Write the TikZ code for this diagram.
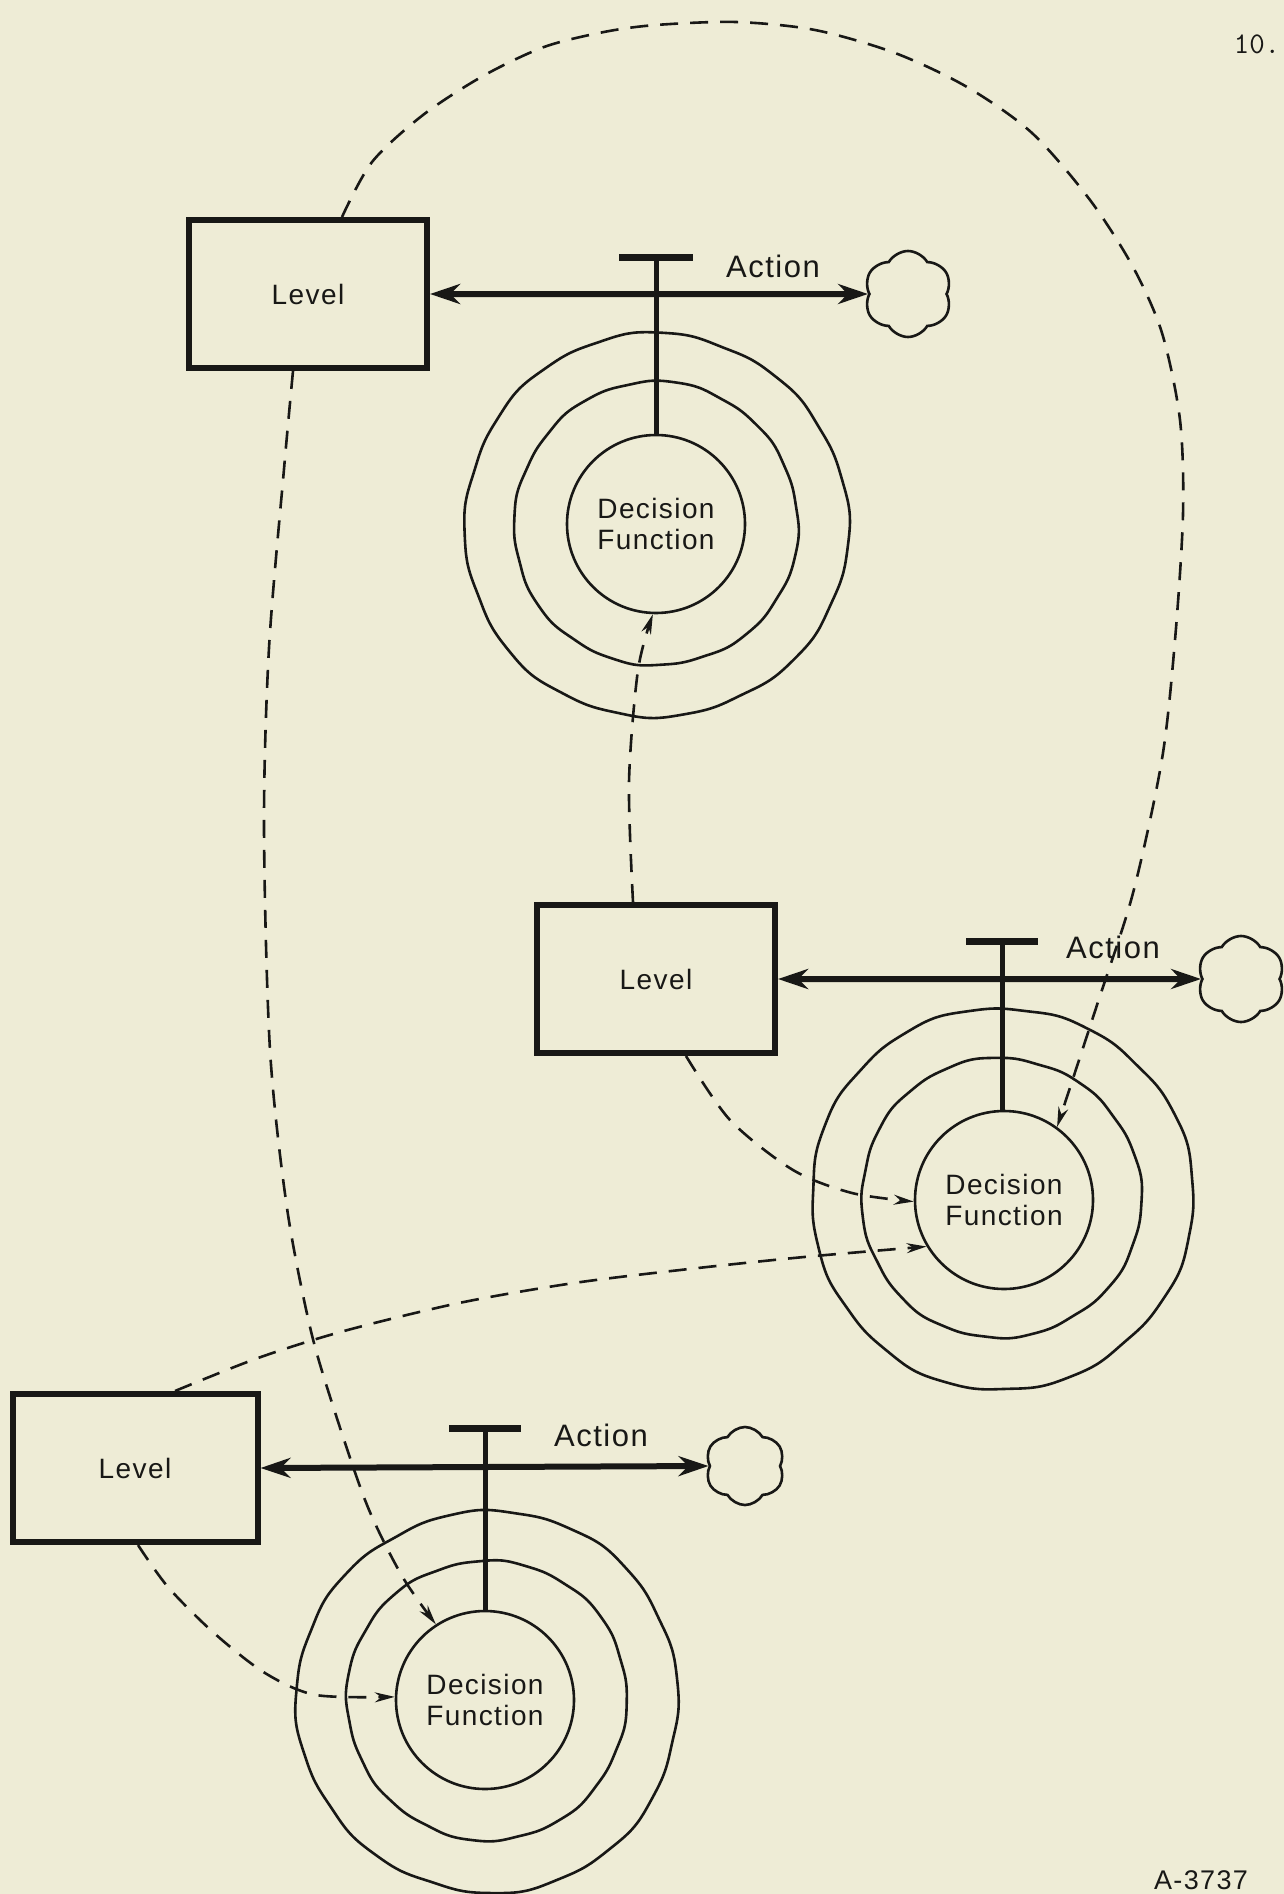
\documentclass[tikz,border=0pt]{standalone}
\usepackage{fontspec}
\setmainfont{Liberation Sans}[LetterSpace=5.0]
\usetikzlibrary{arrows.meta,shapes.symbols}
\definecolor{paper}{RGB}{238,236,214}
\definecolor{ink}{RGB}{24,24,22}

% hand-drawn looking ring: centre x, centre y, radius, phase, wobble, egg
\newcommand\wobblering[6]{%
  \draw[ring] plot[smooth cycle, samples=120, domain=0:357, variable=\t]
   ({#1+#3*(1+#5*(sin(3*\t+#4)+0.7*sin(8*\t+2*#4)+0.45*sin(19*\t+3*#4))+#6*sin(\t))*cos(\t)},
    {#2+#3*(1+#5*(sin(3*\t+#4)+0.7*sin(8*\t+2*#4)+0.45*sin(19*\t+3*#4))+#6*sin(\t))*sin(\t)});
}

\begin{document}
\begin{tikzpicture}[x=1pt,y=-1pt,
  levelbox/.style={draw=ink, line width=6pt, minimum width=238pt,
    minimum height=148pt, inner sep=0pt, text=ink,
    font=\fontsize{28}{34}\selectfont},
  decision/.style={draw=ink, circle, line width=2.6pt, minimum size=178pt,
    inner sep=0pt, align=center, text=ink, font=\fontsize{28}{31}\selectfont},
  ring/.style={draw=ink, line width=2.6pt},
  puff/.style={cloud, cloud puffs=6, cloud puff arc=120, cloud ignores aspect,
    draw=ink, line width=2.6pt, minimum width=88pt, minimum height=86pt,
    inner sep=0pt},
  actionline/.style={draw=ink, line width=6pt,
    {Stealth[length=30pt,width=20pt]}-{Stealth[length=30pt,width=20pt]}},
  tbar/.style={draw=ink, line width=7pt},
  stem/.style={draw=ink, line width=5pt},
  infoflow/.style={draw=ink, line width=2.6pt, dash pattern=on 18pt off 12pt,
    -{Stealth[length=20pt,width=10pt]}},
  lbl/.style={text=ink, font=\fontsize{31}{31}\selectfont}
]
\useasboundingbox[fill=paper] (0,0) rectangle (1284,1894);

% ---- page marks
\node[text=ink, font=\ttfamily\fontsize{30}{30}\selectfont] (pg) at (1257,44) {10.};
\node[text=ink, font=\fontsize{27}{27}\selectfont] (ref) at (1201,1880) {A-3737};

% ---- rings of influence around each decision function
\wobblering{656}{524}{142}{10}{0.006}{0.00}
\wobblering{656}{524}{192}{50}{0.006}{0.008}
\wobblering{1001}{1198}{140}{80}{0.006}{0.00}
\wobblering{1002}{1197}{191}{130}{0.006}{0.008}
\wobblering{487}{1700}{140}{200}{0.006}{0.00}
\wobblering{488}{1700}{191}{250}{0.006}{0.008}

% ---- decision functions
\node[decision] (df1) at (656,524) {Decision\\Function};
\node[decision] (df2) at (1004,1200) {Decision\\Function};
\node[decision] (df3) at (485,1700) {Decision\\Function};

% ---- levels
\node[levelbox] (b1) at (308,294) {Level};
\node[levelbox] (b2) at (656,979) {Level};
\node[levelbox, minimum width=245pt] (b3) at (135,1468) {Level};

% ---- sinks
\node[puff] (c1) at (908,294) {};
\node[puff] (c2) at (1241,979) {};
\node[puff, minimum width=80pt, minimum height=78pt] (c3) at (745,1466) {};

% ---- valves (T) on the action flows
\coordinate (t1) at (656,258);
\coordinate (t2) at (1002,941);
\coordinate (t3) at (485,1428);
\draw[stem] (t1) -- (df1.north);
\draw[stem] (t2) -- (t2 |- df2.north);
\draw[stem] (t3) -- (df3.north);
\draw[tbar] ([xshift=-37pt]t1) -- ([xshift=37pt]t1);
\draw[tbar] ([xshift=-36pt]t2) -- ([xshift=36pt]t2);
\draw[tbar] ([xshift=-36pt]t3) -- ([xshift=36pt]t3);

% ---- action flows
\draw[actionline] (b1.east) -- (c1.west);
\draw[actionline] (b2.east) -- (c2.west);
\draw[actionline] (b3.east) -- (c3.west);
\node[lbl] (a1) at (773,266) {Action};
\node[lbl] (a2) at (1113,947) {Action};
\node[lbl] (a3) at (601,1435) {Action};

% ---- information links
\draw[infoflow] plot[smooth] coordinates {([xshift=34pt]b1.north) (372,162) (423,115)
  (483,76) (544,47) (604,32) (656,25) (736,22) (815,30) (895,53) (967,87) (1032,133)
  (1090,200) (1133,267) (1162,333) (1180,420) (1183,514) (1175,640) (1162,759)
  (1133,893) (1097,1005) (df2.54)};
\draw[infoflow] plot[smooth] coordinates {([xshift=-15pt]b1.south) (284,469) (269,648)
  (264,826) (270,1050) (287,1208) (310,1327) (333,1406) (367,1505) (402,1576) (df3.123)};
\draw[infoflow] plot[smooth] coordinates {([xshift=-23pt]b2.north) (629,782) (638,670)
  (df1.-92)};
\draw[infoflow] plot[smooth] coordinates {([xshift=30pt]b2.south) (730,1120) (793,1170)
  (852,1193) (df2.181)};
\draw[infoflow] plot[smooth] coordinates {([xshift=40pt]b3.north) (258,1358) (344,1331)
  (459,1303) (574,1283) (689,1269) (804,1257) (df2.211)};
\draw[infoflow] plot[smooth] coordinates {([xshift=3pt]b3.south) (168,1587) (214,1633)
  (265,1673) (316,1695) (df3.178)};
\end{tikzpicture}
\end{document}
